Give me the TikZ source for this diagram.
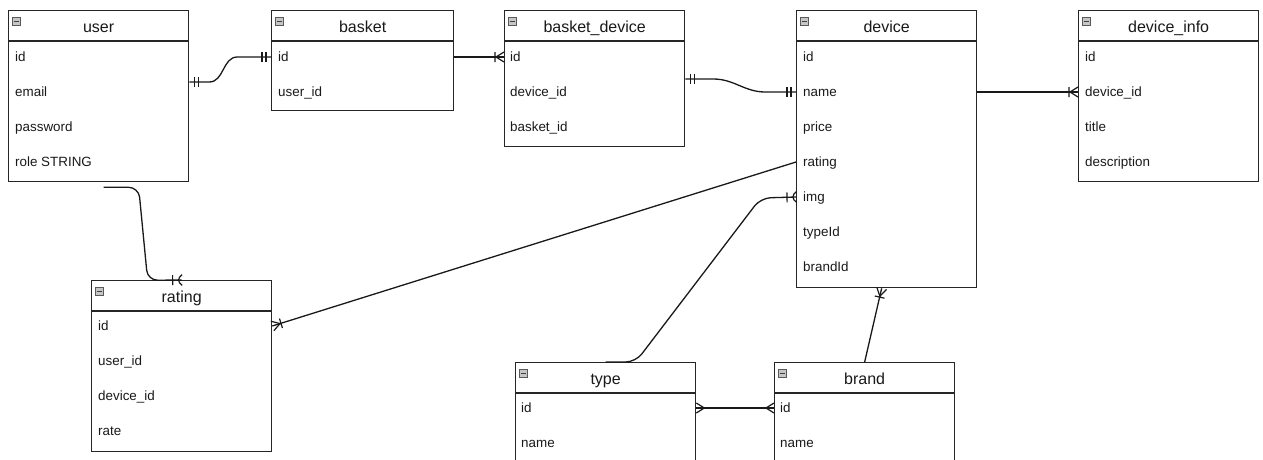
\documentclass[tikz,border=0pt]{standalone}
\usepackage{fontspec}
\setmainfont{Liberation Sans}
\usetikzlibrary{decorations.markings}

\begin{document}
\begin{tikzpicture}[x=1pt, y=-1pt,
    tbl/.style={draw=black!85, line width=1.3pt, anchor=north west, inner sep=0pt, minimum width=180pt},
    hdr/.style={inner sep=0pt, text height=11pt, text depth=4pt, font=\fontsize{16}{19}\selectfont, text=black!90},
    fld/.style={anchor=west, inner sep=0pt, text height=10pt, text depth=1.5pt, font=\fontsize{13.4}{16}\selectfont, text=black!90},
    icon/.style={draw=gray!70!black, fill=gray!45, line width=0.7pt, minimum size=8pt, inner sep=0pt,
      path picture={\draw[black!75, line width=1.4pt] ([xshift=1.3pt]path picture bounding box.west) -- ([xshift=-1.3pt]path picture bounding box.east);}},
    conn/.style={draw=black!90, line width=1.3pt},
    one start/.style={postaction={decorate, decoration={markings, mark=at position 0 with {\draw[line width=1.2pt] (5,-5) -- (5,5) (9,-5) -- (9,5);}}}},
    one end/.style={postaction={decorate, decoration={markings, mark=at position 1 with {\draw[line width=1.2pt] (-5,-5) -- (-5,5) (-9,-5) -- (-9,5);}}}},
    crow end/.style={postaction={decorate, decoration={markings, mark=at position 1 with {\draw[line width=1.2pt] (0,-5) -- (-8,0) -- (0,5) (-9,-5) -- (-9,5);}}}},
    many start/.style={postaction={decorate, decoration={markings, mark=at position 0 with {\draw[line width=1.2pt] (0,-5) -- (8,0) -- (0,5);}}}},
    many end/.style={postaction={decorate, decoration={markings, mark=at position 1 with {\draw[line width=1.2pt] (0,-5) -- (-8,0) -- (0,5);}}}}]

    \useasboundingbox (0,0) rectangle (1263,459);
    \clip (0,0) rectangle (1263,459);

    % tables
    \node[tbl, minimum height=171pt] (user) at (8,10) {};
    \node[tbl, minimum width=182pt, minimum height=100pt] (basket) at (271,10) {};
    \node[tbl, minimum height=136pt] (bdev) at (504,10) {};
    \node[tbl, minimum height=277pt] (device) at (796,10) {};
    \node[tbl, minimum height=171pt] (dinfo) at (1078,10) {};
    \node[tbl, minimum height=171pt] (rating) at (91,280) {};
    \node[tbl, minimum height=140pt] (type) at (515,362) {};
    \node[tbl, minimum height=140pt] (brand) at (774,362) {};

    \foreach \t in {user,basket,bdev,device,dinfo,rating,type,brand} {
        \draw[draw=black!85, line width=1.3pt] ([yshift=-31pt]\t.north west) -- ([yshift=-31pt]\t.north east);
        \node[icon] (\t-i) at ([xshift=8.5pt,yshift=-11.5pt]\t.north west) {};
    }

    \node[hdr] (user-h) at ([yshift=-18.5pt]user.north) {user};
    \node[hdr] (basket-h) at ([yshift=-18.5pt]basket.north) {basket};
    \node[hdr] (bdev-h) at ([yshift=-18.5pt]bdev.north) {basket\_device};
    \node[hdr] (device-h) at ([yshift=-18.5pt]device.north) {device};
    \node[hdr] (dinfo-h) at ([yshift=-18.5pt]dinfo.north) {device\_info};
    \node[hdr] (rating-h) at ([yshift=-18.5pt]rating.north) {rating};
    \node[hdr] (type-h) at ([yshift=-18.5pt]type.north) {type};
    \node[hdr] (brand-h) at ([yshift=-18.5pt]brand.north) {brand};

    % fields
    \node[fld] (user-id) at (15,57) {id};
    \node[fld] (user-email) at (15,92) {email};
    \node[fld] (user-pass) at (15,127) {password};
    \node[fld] (user-role) at (15,162) {role STRING};

    \node[fld] (basket-id) at (278,57) {id};
    \node[fld] (basket-uid) at (278,92) {user\_id};

    \node[fld] (bdev-id) at (510,57) {id};
    \node[fld] (bdev-did) at (510,92) {device\_id};
    \node[fld] (bdev-bid) at (510,127) {basket\_id};

    \node[fld] (device-id) at (803,57) {id};
    \node[fld] (device-name) at (803,92) {name};
    \node[fld] (device-price) at (803,127) {price};
    \node[fld] (device-rating) at (803,162) {rating};
    \node[fld] (device-img) at (803,197) {img};
    \node[fld] (device-type) at (803,232) {typeId};
    \node[fld] (device-brand) at (803,267) {brandId};

    \node[fld] (dinfo-id) at (1085,57) {id};
    \node[fld] (dinfo-did) at (1085,92) {device\_id};
    \node[fld] (dinfo-title) at (1085,127) {title};
    \node[fld] (dinfo-desc) at (1085,162) {description};

    \node[fld] (rating-id) at (98,326) {id};
    \node[fld] (rating-uid) at (98,361) {user\_id};
    \node[fld] (rating-did) at (98,396) {device\_id};
    \node[fld] (rating-rate) at (98,431) {rate};

    \node[fld] (type-id) at (521,408) {id};
    \node[fld] (type-name) at (521,443) {name};

    \node[fld] (brand-id) at (780,408) {id};
    \node[fld] (brand-name) at (780,443) {name};

    % relations
    \draw[conn, one start, one end] ([yshift=-72pt]user.north east) -- ++(20,0) to[out=0, in=180] ++(28,-25) -- (basket.west |- basket-id);
    \draw[conn, crow end] (basket.east |- basket-id) -- (bdev.west |- bdev-id);
    \draw[conn, one start, one end] ([yshift=-69pt]bdev.north east) -- ++(28,0) to[out=0, in=180] ++(52,13) -- (device.west |- device-name);
    \draw[conn, crow end] (device.east |- device-name) -- (dinfo.west |- dinfo-did);
    \draw[conn, crow end, rounded corners=10pt] ([shift={(5,5)}]user.south) -- ++(35,0) -- ++(9,93) -- (rating.north);
    \draw[conn, crow end] (device.west |- device-rating) -- (rating.east |- rating-id);
    \draw[conn, crow end, rounded corners=10pt] (type.north) -- ++(30,0) -- ++(125,-164) -- (device.west |- device-img);
    \draw[conn, crow end] (brand.north) -- ([xshift=-5pt]device.south);
    \draw[conn, many start, many end] (type.east |- type-id) -- (brand.west |- brand-id);
\end{tikzpicture}
\end{document}
